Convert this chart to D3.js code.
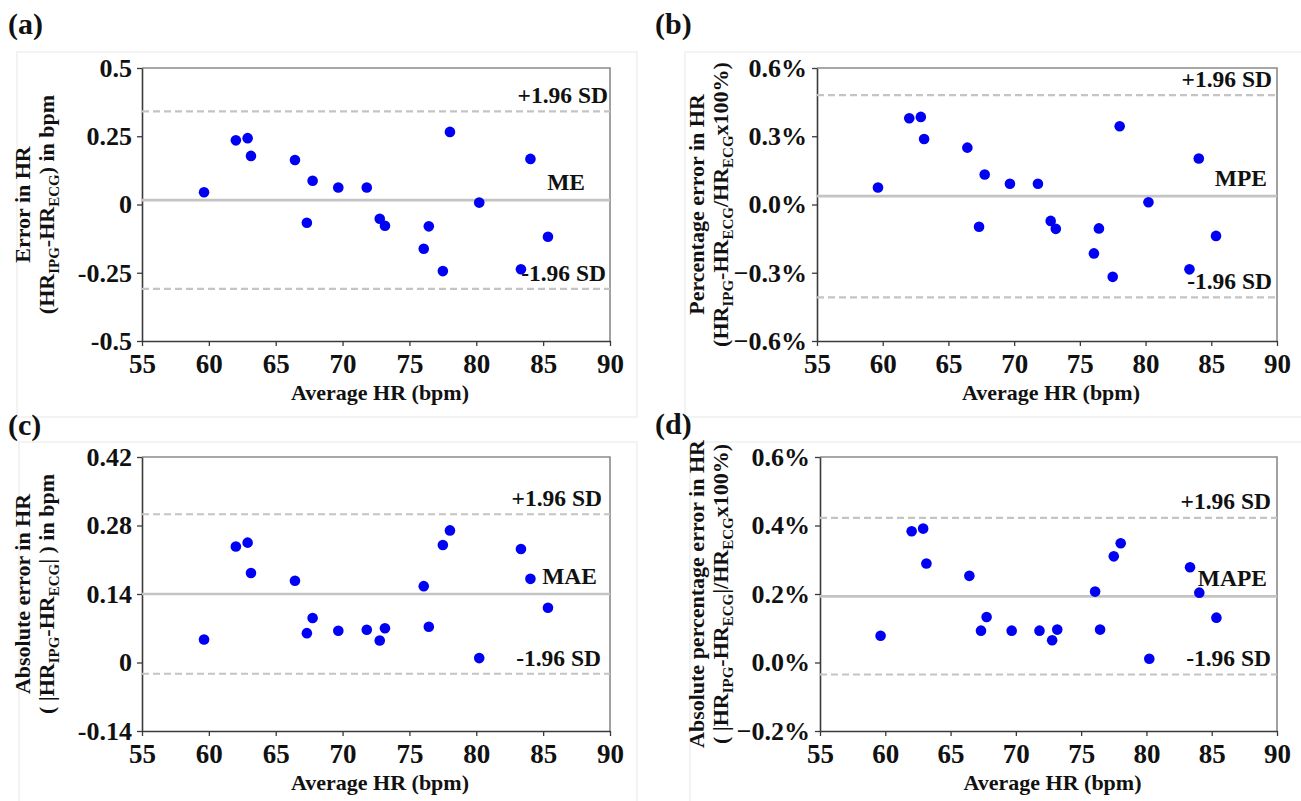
<!DOCTYPE html>
<html>
<head>
<meta charset="utf-8">
<script src="https://cdn.jsdelivr.net/npm/d3@7"></script>
<style>
  body { margin: 0; background: #fff; }
  text { font-family: "Liberation Serif", "Times New Roman", serif; font-weight: bold; fill: #111; }
</style>
</head>
<body>
<svg id="fig" width="1301" height="801"></svg>
<script>
// average HR of each subject (bpm)
const avgHR = [59.64, 62.02, 62.9, 63.15, 66.44, 67.33, 67.76, 69.68, 71.81, 72.78, 73.17, 76.07, 76.45, 77.5, 78.03, 80.22, 83.34, 84.05, 85.36];

// errors
const errHR = [0.045, 0.235, 0.243, 0.178, 0.163, -0.067, 0.087, 0.062, 0.062, -0.052, -0.078, -0.162, -0.080, -0.244, 0.266, 0.007, -0.237, 0.167, -0.118];
const pctErrHR = [0.075, 0.379, 0.385, 0.288, 0.250, -0.098, 0.132, 0.091, 0.091, -0.072, -0.107, -0.215, -0.105, -0.318, 0.344, 0.010, -0.285, 0.202, -0.138];
const absErrHR = [0.047, 0.237, 0.245, 0.183, 0.167, 0.060, 0.091, 0.065, 0.067, 0.045, 0.070, 0.156, 0.073, 0.240, 0.270, 0.009, 0.232, 0.171, 0.112];
const absPctErrHR = [0.078, 0.383, 0.391, 0.289, 0.253, 0.093, 0.133, 0.093, 0.093, 0.065, 0.096, 0.207, 0.096, 0.310, 0.348, 0.011, 0.278, 0.204, 0.131];

// [mean, +1.96 SD, -1.96 SD]
const limitsErr = [0.016, 0.341, -0.309];
const limitsPctErr = [0.037, 0.481, -0.408];
const limitsAbsErr = [0.140, 0.303, -0.023];
const limitsAbsPctErr = [0.193, 0.422, -0.035];

const xTicks = [55, 60, 65, 70, 75, 80, 85, 90];
const yTicksErr = [-0.5, -0.25, 0, 0.25, 0.5];
const yTicksPctErr = [-0.6, -0.3, 0, 0.3, 0.6];
const yTicksAbsErr = [-0.14, 0, 0.14, 0.28, 0.42];
const yTicksAbsPctErr = [-0.2, 0, 0.2, 0.4, 0.6];

const panelLetters = ["(a)", "(b)", "(c)", "(d)"];
const meanLabels = ["ME", "MPE", "MAE", "MAPE"];

const plain = d => String(d);
const pct = d => d3.format(".1f")(d) + "%";

// y titles: second line is split into normal / subscript pieces
const titles = [
  ["Error in HR", [["(HR"], ["IPG", 1], ["-HR"], ["ECG", 1], [") in bpm"]]],
  ["Percentage error in HR", [["(HR"], ["IPG", 1], ["-HR"], ["ECG", 1], ["/HR"], ["ECG", 1], ["x100%)"]]],
  ["Absolute error in HR", [["( |HR"], ["IPG", 1], ["-HR"], ["ECG", 1], ["| ) in bpm"]]],
  ["Absolute percentage error in HR", [["( |HR"], ["IPG", 1], ["-HR"], ["ECG", 1], ["|/HR"], ["ECG", 1], ["x100%)"]]]
];

const panels = [
  {y: errHR, limits: limitsErr, ticks: yTicksErr, fmt: plain,
   left: 142, right: 610, top: 68, bottom: 341, lx: 8, ly: 34, tx: [22, 46],
   meanDx: 25, upDx: 2, loDx: 4, frame: [17, 52, 637, 417]},
  {y: pctErrHR, limits: limitsPctErr, ticks: yTicksPctErr, fmt: pct,
   left: 817, right: 1277, top: 68, bottom: 341, lx: 655, ly: 34, tx: [696, 720],
   meanDx: 10, upDx: 5, loDx: 5, frame: [685, 52, 1310, 417]},
  {y: absErrHR, limits: limitsAbsErr, ticks: yTicksAbsErr, fmt: plain,
   left: 142, right: 610, top: 457, bottom: 731, lx: 8, ly: 435, tx: [22, 46],
   meanDx: 13, upDx: 8, loDx: 9, frame: [19, 442, 637, 810]},
  {y: absPctErrHR, limits: limitsAbsPctErr, ticks: yTicksAbsPctErr, fmt: pct,
   left: 820, right: 1277, top: 457, bottom: 731, lx: 655, ly: 434, tx: [696, 720],
   meanDx: 10, upDx: 6, loDx: 6, frame: [690, 442, 1310, 810]}
];

const svg = d3.select("#fig");

panels.forEach((p, i) => drawPanel(p, i));

function drawPanel(p, i) {
  const g = svg.append("g");

  const x = d3.scaleLinear().domain([55, 90]).range([p.left, p.right]);
  const y = d3.scaleLinear().domain(d3.extent(p.ticks)).range([p.bottom, p.top]);

  // faint chart-area frame
  g.append("rect")
      .attr("x", p.frame[0]).attr("y", p.frame[1])
      .attr("width", p.frame[2] - p.frame[0]).attr("height", p.frame[3] - p.frame[1])
      .attr("fill", "none").attr("stroke", "#efefef").attr("stroke-width", 1.5);

  g.append("text")
      .attr("x", p.lx).attr("y", p.ly)
      .style("font-size", "30px")
      .text(panelLetters[i]);

  // top and right border
  g.append("path")
      .attr("d", `M${p.left},${p.top}H${p.right}V${p.bottom}`)
      .attr("fill", "none").attr("stroke", "#8a8a8a").attr("stroke-width", 1.6);

  const xAxis = g.append("g")
      .attr("transform", `translate(0,${p.bottom})`)
      .call(d3.axisBottom(x).tickValues(xTicks).tickSize(5).tickSizeOuter(0).tickPadding(8));

  const yAxis = g.append("g")
      .attr("transform", `translate(${p.left},0)`)
      .call(d3.axisLeft(y).tickValues(p.ticks).tickFormat(p.fmt).tickSize(5).tickSizeOuter(0).tickPadding(5));

  [xAxis, yAxis].forEach(a => {
    a.select(".domain").attr("stroke", "#3a3a3a").attr("stroke-width", 1.6);
    a.selectAll(".tick line").attr("stroke", "#3a3a3a").attr("stroke-width", 1.3);
    a.selectAll(".tick text").style("fill", "#111");
  });
  xAxis.selectAll(".tick text").style("font-size", "27px");
  yAxis.selectAll(".tick text").style("font-size", "26px");

  // mean and limits of agreement
  const [mean, upper, lower] = p.limits;
  g.append("line")
      .attr("x1", p.left).attr("x2", p.right)
      .attr("y1", y(mean)).attr("y2", y(mean))
      .attr("stroke", "#c4c4c4").attr("stroke-width", 2.6);

  g.selectAll(".sd")
    .data([upper, lower])
    .join("line")
      .attr("class", "sd")
      .attr("x1", p.left).attr("x2", p.right)
      .attr("y1", d => y(d)).attr("y2", d => y(d))
      .attr("stroke", "#c4c4c4").attr("stroke-width", 2.2)
      .attr("stroke-dasharray", "7,4");

  g.selectAll("circle")
    .data(avgHR.map((hr, k) => [hr, p.y[k]]))
    .join("circle")
      .attr("cx", d => x(d[0]))
      .attr("cy", d => y(d[1]))
      .attr("r", 5.3)
      .attr("fill", "#0000f5");

  const note = (txt, yy, dx) => g.append("text")
      .attr("x", p.right - dx).attr("y", yy)
      .attr("text-anchor", "end")
      .style("font-size", "23.5px")
      .text(txt);

  note("+1.96 SD", y(upper) - 8.5, p.upDx);
  note(meanLabels[i], y(mean) - 10, p.meanDx);
  note("-1.96 SD", y(lower) - 8, p.loDx);

  // axis titles
  g.append("text")
      .attr("x", (p.left + p.right) / 2 + 4)
      .attr("y", p.bottom + 59)
      .attr("text-anchor", "middle")
      .style("font-size", "22px")
      .text("Average HR (bpm)");

  const cy = (p.top + p.bottom) / 2;
  const [line1, line2] = titles[i];

  g.append("text")
      .attr("transform", `translate(${p.tx[0]},${cy}) rotate(-90)`)
      .attr("text-anchor", "middle")
      .attr("dy", "0.35em")
      .style("font-size", "22px")
      .text(line1);

  const t2 = g.append("text")
      .attr("transform", `translate(${p.tx[1]},${cy}) rotate(-90)`)
      .attr("text-anchor", "middle")
      .attr("dy", "0.35em")
      .style("font-size", "22px");

  let shifted = false;
  line2.forEach(([s, sub]) => {
    const ts = t2.append("tspan").text(s);
    if (sub) {
      ts.style("font-size", "15px").attr("dy", shifted ? 0 : 5);
      shifted = true;
    } else {
      if (shifted) ts.attr("dy", -5);
      shifted = false;
    }
  });
}
</script>
</body>
</html>
